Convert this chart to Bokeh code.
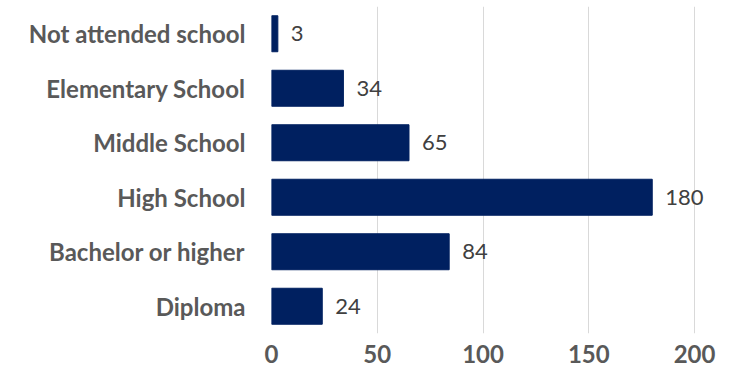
from bokeh.plotting import figure
from bokeh.models import ColumnDataSource, FactorRange, LabelSet, FixedTicker, Range1d
from bokeh.embed import file_html
from bokeh.resources import INLINE
from bokeh.core.properties import value

categories = ["Not attended school", "Elementary School", "Middle School",
              "High School", "Bachelor or higher", "Diploma"]
counts = [3, 34, 65, 180, 84, 24]
x_ticks = [0, 50, 100, 150, 200]

FONT = "Lato"
BAR = "#002060"

src = ColumnDataSource(dict(cat=categories, val=counts, lbl=[str(v) for v in counts]))

# frame spans 271..730 px; 0..200 maps to 271..694
p = figure(width=734, height=378,
           y_range=FactorRange(*reversed(categories), range_padding=0),
           x_range=Range1d(0, 217),
           output_backend="svg", toolbar_location=None,
           min_border_left=271, min_border_right=4,
           min_border_top=6, min_border_bottom=45)

p.hbar(y="cat", right="val", left=0, height=0.66, source=src,
       fill_color=BAR, line_color=BAR)

labels = LabelSet(x="val", y="cat", text="lbl", source=src, x_offset=13,
                  text_baseline="middle", text_align="left",
                  text_font_size="22px", text_color="#404040",
                  text_font=value(FONT))
p.add_layout(labels)

p.outline_line_color = None
p.background_fill_color = "white"
p.border_fill_color = "white"

p.ygrid.grid_line_color = None
p.xgrid.ticker = FixedTicker(ticks=x_ticks)
p.xgrid.grid_line_color = "#d9d9d9"
p.xgrid.grid_line_width = 1

p.xaxis.ticker = FixedTicker(ticks=x_ticks)
p.xaxis.axis_line_color = None
p.xaxis.major_tick_line_color = None
p.xaxis.minor_tick_line_color = None
p.xaxis.major_label_text_font = FONT
p.xaxis.major_label_text_font_style = "bold"
p.xaxis.major_label_text_font_size = "24px"
p.xaxis.major_label_text_color = "#595959"
p.xaxis.major_label_standoff = 5

p.yaxis.axis_line_color = None
p.yaxis.major_tick_line_color = None
p.yaxis.minor_tick_line_color = None
p.yaxis.major_label_text_font = FONT
p.yaxis.major_label_text_font_style = "bold"
p.yaxis.major_label_text_font_size = "24px"
p.yaxis.major_label_text_color = "#595959"
p.yaxis.major_label_standoff = 20

open("out.html", "w").write(file_html(p, INLINE))
